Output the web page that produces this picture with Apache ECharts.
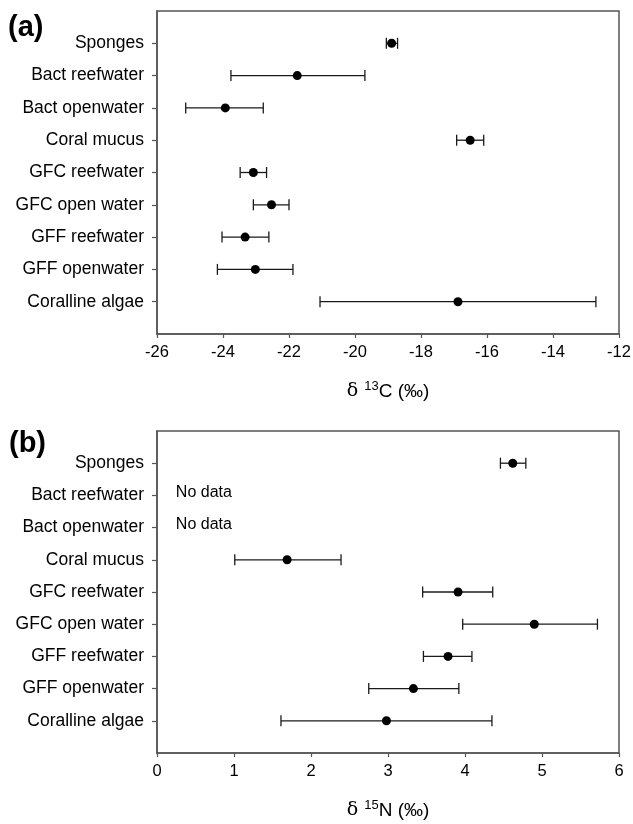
<!DOCTYPE html>
<html>
<head>
<meta charset="utf-8">
<script src="https://cdn.jsdelivr.net/npm/echarts@6/dist/echarts.min.js"></script>
<style>
    html, body { margin: 0; padding: 0; background: #fff; }
    #chart { width: 633px; height: 824px; }
</style>
</head>
<body>
<div id="chart"></div>
<script>
    // categories, top to bottom
    var categories = ['Sponges', 'Bact reefwater', 'Bact openwater', 'Coral mucus', 'GFC reefwater',
        'GFC open water', 'GFF reefwater', 'GFF openwater', 'Coralline algae'];

    // panel (a) d13C, mean and error bar ends
    var carbonMean = [-18.89, -21.75, -23.93, -16.51, -23.08, -22.53, -23.33, -23.02, -16.88];
    var carbonLow = [-19.05, -23.76, -25.13, -16.92, -23.48, -23.08, -24.03, -24.17, -21.06];
    var carbonHigh = [-18.71, -19.70, -22.78, -16.10, -22.68, -22.00, -22.61, -21.88, -12.70];

    // panel (b) d15N, null = no data
    var nitrogenMean = [4.62, null, null, 1.69, 3.91, 4.90, 3.78, 3.33, 2.98];
    var nitrogenLow = [4.46, null, null, 1.01, 3.45, 3.97, 3.46, 2.75, 1.61];
    var nitrogenHigh = [4.79, null, null, 2.39, 4.36, 5.72, 4.09, 3.92, 4.35];

    var carbonTicks = {min: -26, max: -12, interval: 2};
    var nitrogenTicks = {min: 0, max: 6, interval: 1};
    var noDataX = 0.245;

    // blank slots above and below the rows
    var yData = [''].concat(categories).concat([' ']);

    var font = '"Liberation Sans", Arial, sans-serif';
    var axisColor = '#555';

    function points(mean) {
        var out = [];
        for (var i = 0; i < categories.length; i++) {
            if (mean[i] !== null) out.push([mean[i], categories[i]]);
        }
        return out;
    }

    function bars(low, high) {
        var out = [];
        for (var i = 0; i < categories.length; i++) {
            if (low[i] !== null) out.push([low[i], high[i], categories[i]]);
        }
        return out;
    }

    function noData(mean) {
        var out = [];
        for (var i = 0; i < categories.length; i++) {
            if (mean[i] === null) out.push([noDataX, categories[i]]);
        }
        return out;
    }

    function renderErrorBar(params, api) {
        var y = api.value(2);
        var p1 = api.coord([api.value(0), y]);
        var p2 = api.coord([api.value(1), y]);
        var h = 5.5;
        var style = {stroke: '#1a1a1a', lineWidth: 1.3};
        return {
            type: 'group',
            children: [
                {type: 'line', shape: {x1: p1[0], y1: p1[1], x2: p2[0], y2: p2[1]}, style: style},
                {type: 'line', shape: {x1: p1[0], y1: p1[1] - h, x2: p1[0], y2: p1[1] + h}, style: style},
                {type: 'line', shape: {x1: p2[0], y1: p2[1] - h, x2: p2[0], y2: p2[1] + h}, style: style}
            ]
        };
    }

    function xAxis(idx, ticks, nameHtml) {
        return {
            type: 'value',
            gridIndex: idx,
            min: ticks.min,
            max: ticks.max,
            interval: ticks.interval,
            splitLine: {show: false},
            axisLine: {show: true, onZero: false, lineStyle: {color: axisColor, width: 1.5}},
            axisTick: {show: true, inside: false, length: 4, lineStyle: {color: axisColor, width: 1.2}},
            axisLabel: {margin: 10, fontSize: 16.5, color: '#000', fontFamily: font},
            name: nameHtml,
            nameLocation: 'middle',
            nameGap: 46,
            nameTextStyle: {
                color: '#000',
                fontFamily: font,
                rich: {
                    d: {fontSize: 19, fontFamily: '"DejaVu Serif", serif', lineHeight: 23, color: '#000'},
                    s: {fontSize: 13, verticalAlign: 'top', lineHeight: 15, fontFamily: font, color: '#000'},
                    n: {fontSize: 19, lineHeight: 23, fontFamily: font, color: '#000'}
                }
            }
        };
    }

    function yAxis(idx) {
        return {
            type: 'category',
            gridIndex: idx,
            data: yData,
            inverse: true,
            boundaryGap: false,
            splitLine: {show: false},
            axisLine: {show: true, lineStyle: {color: axisColor, width: 1.5}},
            axisTick: {
                show: true,
                length: 5,
                lineStyle: {color: axisColor, width: 1.2},
                interval: function (index, value) {
                    return value.trim() !== '';
                }
            },
            axisLabel: {interval: 0, margin: 13, fontSize: 17.5, color: '#000', fontFamily: font}
        };
    }

    var gridStyle = {show: true, left: 157, right: 14, borderColor: axisColor, borderWidth: 1.5,
        backgroundColor: '#fff', containLabel: false, outerBoundsMode: 'none'};

    var option = {
        backgroundColor: '#fff',
        animation: false,
        title: [
            {text: '(a)', left: 8, top: 13, padding: 0,
                textStyle: {fontSize: 29, fontWeight: 'bold', color: '#000', fontFamily: font}},
            {text: '(b)', left: 9, top: 429, padding: 0,
                textStyle: {fontSize: 29, fontWeight: 'bold', color: '#000', fontFamily: font}}
        ],
        grid: [
            Object.assign({}, gridStyle, {top: 11, height: 323}),
            Object.assign({}, gridStyle, {top: 431, height: 322})
        ],
        xAxis: [
            xAxis(0, carbonTicks, '{d|δ }{s|13}{n|C (‰)}'),
            xAxis(1, nitrogenTicks, '{d|δ }{s|15}{n|N (‰)}')
        ],
        yAxis: [yAxis(0), yAxis(1)],
        series: [
            {
                type: 'custom',
                name: 'd13C error',
                xAxisIndex: 0,
                yAxisIndex: 0,
                renderItem: renderErrorBar,
                encode: {x: [0, 1], y: 2},
                data: bars(carbonLow, carbonHigh),
                z: 2
            },
            {
                type: 'scatter',
                name: 'd13C',
                xAxisIndex: 0,
                yAxisIndex: 0,
                symbolSize: 9,
                itemStyle: {color: '#000', opacity: 1},
                data: points(carbonMean),
                z: 3
            },
            {
                type: 'custom',
                name: 'd15N error',
                xAxisIndex: 1,
                yAxisIndex: 1,
                renderItem: renderErrorBar,
                encode: {x: [0, 1], y: 2},
                data: bars(nitrogenLow, nitrogenHigh),
                z: 2
            },
            {
                type: 'scatter',
                name: 'd15N',
                xAxisIndex: 1,
                yAxisIndex: 1,
                symbolSize: 9,
                itemStyle: {color: '#000', opacity: 1},
                data: points(nitrogenMean),
                z: 3
            },
            {
                type: 'scatter',
                name: 'no data',
                xAxisIndex: 1,
                yAxisIndex: 1,
                symbolSize: 0,
                silent: true,
                itemStyle: {color: '#000', opacity: 1},
                label: {
                    show: true,
                    position: 'right',
                    distance: 0,
                    offset: [0, -3],
                    formatter: 'No data',
                    fontSize: 16,
                    color: '#000',
                    opacity: 1,
                    fontFamily: font
                },
                data: noData(nitrogenMean)
            }
        ]
    };

    var chart = echarts.init(document.getElementById('chart'));
    chart.setOption(option);
    window.addEventListener('resize', function () {
        chart.resize();
    });
</script>
</body>
</html>
